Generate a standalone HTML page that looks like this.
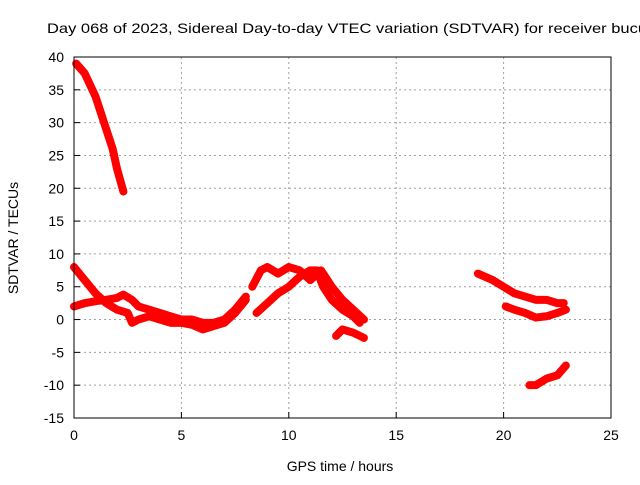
<!DOCTYPE html>
<html><head><meta charset="utf-8"><style>
body{margin:0;background:#fff;font-family:"Liberation Sans",sans-serif}
svg text{font-family:"Liberation Sans",sans-serif;font-size:14px;fill:#000}
</style></head><body>
<svg id="chart" width="640" height="480" xmlns="http://www.w3.org/2000/svg">
<rect width="640" height="480" fill="#fff"/>
<text x="47" y="33" textLength="600" lengthAdjust="spacingAndGlyphs">Day 068 of 2023, Sidereal Day-to-day VTEC variation (SDTVAR) for receiver bucu</text>
<g id="grid"></g><g id="series"></g><g id="axes"></g>
<text x="340" y="471" text-anchor="middle">GPS time / hours</text>
<text transform="translate(18,238) rotate(-90)" text-anchor="middle">SDTVAR / TECUs</text>
</svg>
<script>
const xTicks=[0,5,10,15,20,25];
const yTicks=[-15,-10,-5,0,5,10,15,20,25,30,35,40];
const seriesA=[[0.1,39],[0.5,37.5],[1,34],[1.5,29],[1.8,26],[2,23],[2.3,19.5]];
const seriesB=[[0,8],[0.5,6],[1,4],[1.5,2.5],[2,1.5],[2.5,1],[2.7,-0.5],[3,0],[3.5,0.5],[4,0],[4.5,-0.5],[5,-0.5],[5.5,-0.8],[6,-1.5],[6.5,-1],[7,-0.5],[7.5,1],[8,3]];
const seriesC=[[0,2],[0.5,2.5],[1,2.8],[1.5,3],[2,3.3],[2.3,3.8],[2.7,3],[3,2],[3.5,1.5],[4,1],[4.5,0.5],[5,0],[5.5,0],[6,-0.5],[6.5,-0.5],[7,0],[7.5,1.5],[8,3.5]];
const seriesD=[[8.3,5],[8.7,7.5],[9,8],[9.5,7],[10,8],[10.5,7.5],[11,6],[11.5,7.5],[12,5],[12.5,3],[13,1.5],[13.5,0]];
const seriesE=[[8.5,1],[9,2.5],[9.5,4],[10,5],[10.5,6.5],[11,7.5],[11.3,7.5],[11.6,5],[12,3],[12.5,1.5],[13,0.5],[13.3,-0.5]];
const seriesF=[[12.2,-2.5],[12.5,-1.5],[13,-2],[13.5,-2.8]];
const seriesG=[[18.8,7],[19.5,6],[20,5],[20.5,4],[21,3.5],[21.5,3],[22,3],[22.5,2.5],[22.8,2.5]];
const seriesH=[[20.1,2],[20.5,1.5],[21,1],[21.5,0.3],[22,0.5],[22.5,1],[22.9,1.5]];
const seriesI=[[21.2,-10],[21.5,-10],[22,-9],[22.5,-8.5],[22.9,-7]];
const allSeries=[seriesA,seriesB,seriesC,seriesD,seriesE,seriesF,seriesG,seriesH,seriesI];
const X0=74,X1=611,Y0=418,Y1=57;
const xs=v=>X0+(v-0)/25*(X1-X0);
const ys=v=>Y0-(v+15)/55*(Y0-Y1);
const NS="http://www.w3.org/2000/svg";
const grid=document.getElementById('grid'),axes=document.getElementById('axes'),ser=document.getElementById('series');
function mk(tag,attrs,parent){const e=document.createElementNS(NS,tag);for(const k in attrs)e.setAttribute(k,attrs[k]);parent.appendChild(e);return e;}
xTicks.forEach(t=>{
  if(t>0&&t<25){const g=mk('line',{x1:xs(t),x2:xs(t),y1:Y1,y2:Y0,stroke:'#a0a0a0','stroke-dasharray':'2,3'},grid);
  
  }
  const tk=mk('line',{x1:xs(t),x2:xs(t),y1:Y0,y2:Y0-6,stroke:'#000'},axes);
  
  
  const tx=mk('text',{x:xs(t),y:Y0+22,'text-anchor':'middle'},axes);tx.textContent=t;
  
  
});
yTicks.forEach(t=>{
  if(t>-15&&t<40){const g=mk('line',{x1:X0,x2:X1,y1:ys(t),y2:ys(t),stroke:'#a0a0a0','stroke-dasharray':'2,3'},grid);
  
  }
  const tk=mk('line',{x1:X0,x2:X0+6,y1:ys(t),y2:ys(t),stroke:'#000'},axes);
  
  
  const tx=mk('text',{x:X0-10,y:ys(t)+5,'text-anchor':'end'},axes);tx.textContent=t;
  
  
});
const fr=mk('rect',{x:X0,y:Y1,width:X1-X0,height:Y0-Y1,fill:'none',stroke:'#000'},axes);


allSeries.forEach((s,i)=>{
  const p=mk('polyline',{points:s.map(d=>xs(d[0])+','+ys(d[1])).join(' '),fill:'none',stroke:'#ff0000','stroke-width':8,'stroke-linejoin':'round','stroke-linecap':'round'},ser);
  
  
});
</script>
</body></html>
